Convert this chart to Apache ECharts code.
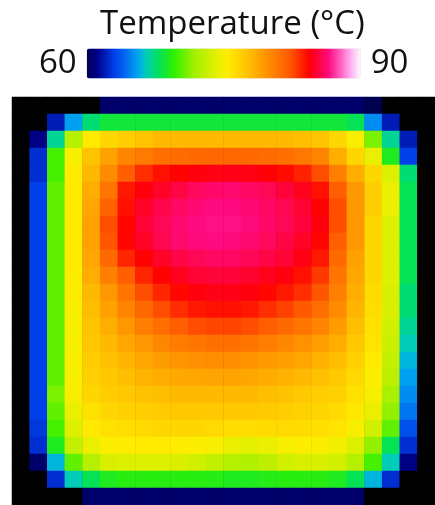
<!DOCTYPE html>
<html>
<head>
<meta charset="utf-8">
<script src="https://cdn.jsdelivr.net/npm/echarts@6/dist/echarts.min.js"></script>
<style>
html,body{margin:0;padding:0;background:#fff;}
#chart{width:435px;height:505px;}
</style>
</head>
<body>
<div id="chart"></div>
<script>
// ---- data (temperatures, °C; row 0 = top) ----
const colCategories = [0,1,2,3,4,5,6,7,8,9,10,11,12,13,14,15,16,17,18,19,20,21,22,23];
const rowCategories = [0,1,2,3,4,5,6,7,8,9,10,11,12,13,14,15,16,17,18,19,20,21,22,23];
const r00 = [57,57,57,58.5,59.5,60.5,60.5,60.5,60.5,60.5,60.5,60.5,60.5,60.5,60.5,60.5,60.5,60.5,60.5,60.5,60,59,57,57];
const r01 = [57,58.5,62,65.5,67.5,68.5,68.5,68.5,68.5,68.5,68.5,68.5,68.5,68.5,68.5,68.5,68.5,68.5,68.5,68,65,62,58,57];
const r02 = [57,61,67,72.5,75.5,76.5,77,77.5,78,78,78,78,78,78,78,78,77.8,77.5,76.5,75,71,67,62,57];
const r03 = [57,62.5,70,75,77.5,79,80.2,80.8,81.2,81.4,81.5,81.6,81.6,81.5,81.4,81.2,80.9,80.2,78.5,76.5,74.5,69,63,57];
const r04 = [57,62.5,70,75.5,78,80,82,83.3,84,84.3,84.5,84.6,84.7,84.6,84.4,84.1,83.6,82.5,80.5,78.5,76.5,74,67.5,57];
const r05 = [57,63,70.5,75.5,78.5,81,83.8,84.5,85,85.5,85.9,86.1,86.2,86,85.8,85.3,84.8,84,82,79.5,77,74.5,68,57];
const r06 = [57,63,70.5,75.5,78.8,81.8,84,85,85.6,86,86.3,86.5,86.5,86.3,86,85.7,85.2,84.3,82.5,79.5,77,74.5,68,57];
const r07 = [57,63,70.5,75.5,79,82.5,84.2,85.2,85.8,86.2,86.5,86.6,86.6,86.4,86.1,85.8,85.3,84.5,82.5,79.5,76.5,74,68,57];
const r08 = [57,63,70.5,75.5,79,82.3,84.2,85,85.7,86.2,86.4,86.5,86.4,86.2,85.9,85.5,85,84.2,82,79.5,76.5,74,68,57];
const r09 = [57,63,70.5,75.5,78.8,81.5,83.5,84.3,85,85.5,85.8,86,86,85.8,85.5,85.2,84.6,83.8,81.5,79,76.5,74,68,57];
const r10 = [57,63,70.5,75.3,78.5,80.5,82,83.5,84.3,84.8,85.2,85.3,85.3,85.1,84.8,84.5,84,83,81,78.8,76.5,74,68,57];
const r11 = [57,63,70.5,75.3,78,79.5,81,82.5,83.5,84.2,84.5,84.7,84.7,84.5,84.2,83.8,83.3,82.3,80.5,78.5,76.3,73.8,67.5,57];
const r12 = [57,63,70.5,75,77.8,79,80.3,81.5,82.5,83.3,83.8,84,84,83.8,83.3,82.8,82.2,81.3,80,78.2,76.2,73.8,67.5,57];
const r13 = [57,63,70.5,75,77.5,78.5,79.5,80.5,81.3,82,82.5,82.7,82.7,82.5,82,81.5,81,80.3,79.3,77.8,76,73.5,67,57];
const r14 = [57,63,70.5,75,77.3,78,78.8,79.5,80.2,80.7,81,81.2,81.2,81,80.6,80.2,79.8,79.2,78.5,77.3,75.8,73.3,66.5,57];
const r15 = [57,63,70.5,75,77,77.6,78.2,78.8,79.3,79.6,79.8,79.9,79.9,79.7,79.4,79.1,78.8,78.4,77.8,76.8,75.5,73,66,57];
const r16 = [57,63,70.5,75,76.8,77.3,77.8,78.2,78.5,78.7,78.8,78.9,78.9,78.8,78.6,78.3,78,77.7,77.2,76.4,75.2,72.8,65.5,57];
const r17 = [57,63,71,75,76.5,77,77.3,77.6,77.8,78,78,78,78,78,77.8,77.6,77.3,77,76.8,76,75,72,65,57];
const r18 = [57,63,70.5,74.5,76,76.5,76.8,77,77.2,77.3,77.3,77.3,77.3,77.3,77.2,77,76.8,76.6,76.3,75.6,74.5,71.5,64.5,57];
const r19 = [57,62.8,70,74,75.5,76,76.2,76.4,76.5,76.5,76.5,76.4,76.2,76.2,76.3,76.4,76.3,76.1,75.8,75,73.5,70.5,63.5,57];
const r20 = [57,62.5,69,73,74.5,75.2,75.4,75.5,75.5,75.4,75.2,75,74.5,74.3,74.6,75,75.2,75.1,74.8,74,71.5,68,62.5,57];
const r21 = [57,60.5,66,70.5,72.5,73.8,74,74,74,73.8,73.5,73,72.5,72.3,72.8,73.5,73.8,73.8,73.5,72.5,70,66.5,61,57];
const r22 = [57,58.5,62.5,66.5,68,69,69.3,69.3,69.3,69.3,69.3,69.2,69,69,69.2,69.3,69.3,69.3,69,68,66,62.5,58.5,57];
const r23 = [57,57,58,59.5,60.5,60.5,60.5,60.5,60.5,60.5,60.5,60.5,60.5,60.5,60.5,60.5,60.5,60.5,60.5,60.5,59.5,58,57,57];
const rows = [r00,r01,r02,r03,r04,r05,r06,r07,r08,r09,r10,r11,r12,r13,r14,r15,r16,r17,r18,r19,r20,r21,r22,r23];

// colour-bar range and tick labels
const rangeMin = 60;
const rangeMax = 90;
const belowRangeFloor = 56;          // values under 60 are drawn black
const tickLabels = ['90', '60'];     // [max end, min end]
const titleText = 'Temperature (°C)';
const annotations = ['84', '77'];

// colour map stops (value -> colour)
const cmapValues = [60, 61.2, 63, 64, 65.1, 65.7, 66.6, 67.8, 69.6, 71.7, 73.8, 75.3, 77.7, 79.8, 82.2, 84.0, 84.3, 86.5, 87.8, 88.9, 90];
const cmapColors = ['#000050','#000090','#0040e8','#0060f0','#0090f0','#00a8f0','#00d0b0','#00e060','#30f000','#a0f000','#d8f000','#ffee00','#ffc000','#ff9000','#ff5a00','#ff1000','#ff0000','#ff0a80','#ff60c0','#ffb0f0','#fff8ff'];

// ---- build options ----
function hexToRgb(h){return [parseInt(h.substr(1,2),16),parseInt(h.substr(3,2),16),parseInt(h.substr(5,2),16)];}
function cmapAt(v){
  if (v < cmapValues[0]) return '#000000';
  for (let i = 0; i < cmapValues.length - 1; i++) {
    if (v <= cmapValues[i+1]) {
      const t = (v - cmapValues[i]) / (cmapValues[i+1] - cmapValues[i]);
      const a = hexToRgb(cmapColors[i]), b = hexToRgb(cmapColors[i+1]);
      const c = a.map((x, k) => Math.round(x + (b[k] - x) * t));
      return 'rgb(' + c.join(',') + ')';
    }
  }
  return cmapColors[cmapColors.length - 1];
}
function ramp(lo, hi, n){
  const out = [];
  for (let i = 0; i <= n; i++) out.push(cmapAt(lo + (hi - lo) * i / n));
  return out;
}

const heatData = [];
rows.forEach((row, j) => row.forEach((v, i) => heatData.push([colCategories[i], rowCategories[j], v])));

const chart = echarts.init(document.getElementById('chart'), null, {renderer: 'canvas'});
const FONT = '"Open Sans", "DejaVu Sans", sans-serif';
chart.setOption({
  animation: false,
  backgroundColor: '#ffffff',
  title: {
    text: titleText,
    left: 95,
    top: 3,
    textStyle: {fontFamily: FONT, fontSize: 33, fontWeight: 'normal', color: '#111'}
  },
  grid: {left: 12, right: 0, top: 97, bottom: 0, show: true, backgroundColor: '#000', borderWidth: 0},
  xAxis: {type: 'category', data: colCategories, show: false},
  yAxis: {type: 'category', data: rowCategories, inverse: true, show: false},
  visualMap: [
    { // visible colour bar
      type: 'continuous',
      min: rangeMin,
      max: rangeMax,
      orient: 'horizontal',
      calculable: false,
      realtime: false,
      hoverLink: false,
      left: 24,
      top: 32,
      itemWidth: 30,
      itemHeight: 274,
      text: tickLabels,
      textGap: 10,
      textStyle: {fontFamily: FONT, fontSize: 33, color: '#111'},
      inRange: {color: ramp(rangeMin, rangeMax, 120)},
      seriesIndex: 1
    },
    { // colouring of the field (below 60 -> black)
      type: 'continuous',
      show: false,
      min: belowRangeFloor,
      max: rangeMax,
      inRange: {color: ramp(belowRangeFloor, rangeMax, 136)},
      seriesIndex: 0
    }
  ],
  series: [
    {
      type: 'heatmap',
      data: heatData,
      itemStyle: {borderWidth: 0},
      emphasis: {disabled: true},
      silent: true
    },
    {
      type: 'heatmap',
      data: [],
      silent: true
    }
  ],
  graphic: [
    {type: 'text', x: 223, y: 240, silent: true,
     style: {text: annotations[0], fontFamily: FONT, fontSize: 30, fill: '#1a1a1a', align: 'center', verticalAlign: 'middle'}},
    {type: 'text', x: 224, y: 397, silent: true,
     style: {text: annotations[1], fontFamily: FONT, fontSize: 30, fill: '#1a1a1a', align: 'center', verticalAlign: 'middle'}}
  ]
});
</script>
</body>
</html>
